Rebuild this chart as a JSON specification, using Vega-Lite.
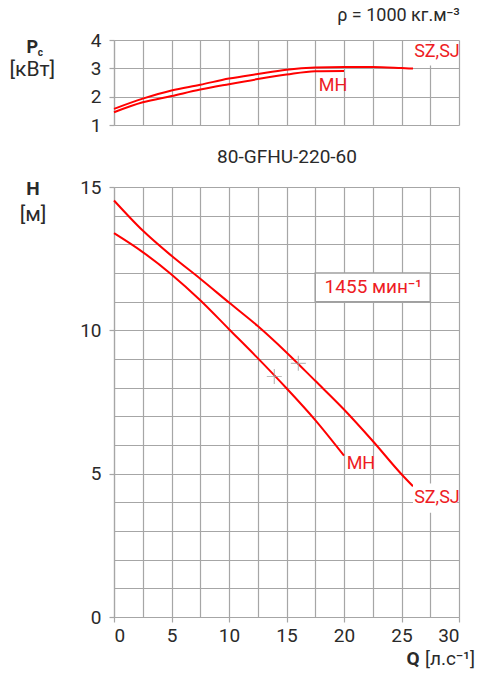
{
  "$schema": "https://vega.github.io/schema/vega-lite/v6.json",
  "padding": {"left": 9, "top": 7, "right": 0, "bottom": 5},
  "config": {
    "view": {"stroke": null},
    "font": "Roboto, sans-serif",
    "concat": {"spacing": 12},
    "axis": {
      "grid": true,
      "gridColor": "#a6a6a6",
      "gridWidth": 1.2,
      "gridOpacity": 1,
      "domainColor": "#a6a6a6",
      "domainWidth": 1.2,
      "tickColor": "#a6a6a6",
      "tickWidth": 1.2,
      "tickSize": 5,
      "labelColor": "#2a2a2a",
      "labelFontSize": 19,
      "labelPadding": 8,
      "labelOverlap": false
    }
  },
  "datasets": {
    "one": [{}],
    "head": [
      {"q": 0, "h": 14.53, "model": "SZ,SJ"},
      {"q": 2.5, "h": 13.48, "model": "SZ,SJ"},
      {"q": 5, "h": 12.6, "model": "SZ,SJ"},
      {"q": 7.5, "h": 11.8, "model": "SZ,SJ"},
      {"q": 10, "h": 10.97, "model": "SZ,SJ"},
      {"q": 12.5, "h": 10.15, "model": "SZ,SJ"},
      {"q": 15, "h": 9.23, "model": "SZ,SJ"},
      {"q": 17.5, "h": 8.24, "model": "SZ,SJ"},
      {"q": 20, "h": 7.24, "model": "SZ,SJ"},
      {"q": 22.5, "h": 6.14, "model": "SZ,SJ"},
      {"q": 25, "h": 4.98, "model": "SZ,SJ"},
      {"q": 26, "h": 4.56, "model": "SZ,SJ"},
      {"q": 0, "h": 13.39, "model": "MH"},
      {"q": 2.5, "h": 12.73, "model": "MH"},
      {"q": 5, "h": 11.95, "model": "MH"},
      {"q": 7.5, "h": 11.05, "model": "MH"},
      {"q": 10, "h": 10.04, "model": "MH"},
      {"q": 12.5, "h": 9.03, "model": "MH"},
      {"q": 15, "h": 7.98, "model": "MH"},
      {"q": 17.5, "h": 6.87, "model": "MH"},
      {"q": 20, "h": 5.63, "model": "MH"}
    ],
    "power": [
      {"q": 0, "p": 1.57, "model": "SZ,SJ"},
      {"q": 2.5, "p": 1.93, "model": "SZ,SJ"},
      {"q": 5, "p": 2.22, "model": "SZ,SJ"},
      {"q": 7.5, "p": 2.42, "model": "SZ,SJ"},
      {"q": 10, "p": 2.64, "model": "SZ,SJ"},
      {"q": 12.5, "p": 2.8, "model": "SZ,SJ"},
      {"q": 15, "p": 2.95, "model": "SZ,SJ"},
      {"q": 17.5, "p": 3.03, "model": "SZ,SJ"},
      {"q": 20, "p": 3.05, "model": "SZ,SJ"},
      {"q": 22.5, "p": 3.05, "model": "SZ,SJ"},
      {"q": 25, "p": 3.01, "model": "SZ,SJ"},
      {"q": 26, "p": 2.99, "model": "SZ,SJ"},
      {"q": 0, "p": 1.45, "model": "MH"},
      {"q": 2.5, "p": 1.8, "model": "MH"},
      {"q": 5, "p": 2.02, "model": "MH"},
      {"q": 7.5, "p": 2.25, "model": "MH"},
      {"q": 10, "p": 2.44, "model": "MH"},
      {"q": 12.5, "p": 2.62, "model": "MH"},
      {"q": 15, "p": 2.78, "model": "MH"},
      {"q": 17.5, "p": 2.9, "model": "MH"},
      {"q": 20, "p": 2.91, "model": "MH"}
    ],
    "duty": [
      {"q": 13.94, "h": 8.39},
      {"q": 16.03, "h": 8.85}
    ]
  },
  "vconcat": [
    {
      "width": 345,
      "height": 85,
      "title": {
        "text": "ρ = 1000  кг.м⁻³",
        "anchor": "end",
        "fontSize": 18,
        "fontWeight": "normal",
        "color": "#2a2a2a",
        "offset": 6
      },
      "layer": [
        {
          "data": {"name": "power"},
          "mark": {"type": "line", "color": "#ff0000", "strokeWidth": 2, "interpolate": "monotone"},
          "encoding": {
            "x": {
              "field": "q", "type": "quantitative",
              "scale": {"domain": [0, 30], "nice": false, "zero": false},
              "axis": {"values": [0, 2.5, 5, 7.5, 10, 12.5, 15, 17.5, 20, 22.5, 25, 27.5, 30], "grid": true, "labels": false, "ticks": false, "domain": false, "title": "80-GFHU-220-60", "titleFontSize": 19, "titleFontWeight": "normal", "titleColor": "#2a2a2a", "titlePadding": 22}
            },
            "y": {
              "field": "p", "type": "quantitative",
              "scale": {"domain": [1, 4], "nice": false, "zero": false},
              "axis": {"values": [1, 2, 3, 4], "grid": true, "title": null}
            },
            "detail": {"field": "model"}
          }
        },
        {
          "data": {"name": "one"},
          "mark": {"type": "rect", "fill": "white"},
          "encoding": {
            "x": {"datum": 26.0, "type": "quantitative", "axis": {"values": [0, 2.5, 5, 7.5, 10, 12.5, 15, 17.5, 20, 22.5, 25, 27.5, 30], "grid": true, "labels": false, "ticks": false, "domain": false, "title": "80-GFHU-220-60", "titleFontSize": 19, "titleFontWeight": "normal", "titleColor": "#2a2a2a", "titlePadding": 22}},
            "x2": {"datum": 29.8},
            "y": {"datum": 3.92, "type": "quantitative", "axis": {"values": [1, 2, 3, 4], "grid": true, "title": null}},
            "y2": {"datum": 3.1}
          }
        },
        {
          "data": {"name": "one"},
          "mark": {"type": "text", "text": "SZ,SJ", "align": "left", "baseline": "middle", "fontSize": 18, "color": "#ee1c24"},
          "encoding": {
            "x": {"datum": 26.1, "type": "quantitative", "axis": {"values": [0, 2.5, 5, 7.5, 10, 12.5, 15, 17.5, 20, 22.5, 25, 27.5, 30], "grid": true, "labels": false, "ticks": false, "domain": false, "title": "80-GFHU-220-60", "titleFontSize": 19, "titleFontWeight": "normal", "titleColor": "#2a2a2a", "titlePadding": 22}},
            "y": {"datum": 3.59, "type": "quantitative", "axis": {"values": [1, 2, 3, 4], "grid": true, "title": null}}
          }
        },
        {
          "data": {"name": "one"},
          "mark": {"type": "text", "text": "MH", "align": "left", "baseline": "middle", "fontSize": 18, "color": "#ee1c24"},
          "encoding": {
            "x": {"datum": 17.8, "type": "quantitative", "axis": {"values": [0, 2.5, 5, 7.5, 10, 12.5, 15, 17.5, 20, 22.5, 25, 27.5, 30], "grid": true, "labels": false, "ticks": false, "domain": false, "title": "80-GFHU-220-60", "titleFontSize": 19, "titleFontWeight": "normal", "titleColor": "#2a2a2a", "titlePadding": 22}},
            "y": {"datum": 2.38, "type": "quantitative", "axis": {"values": [1, 2, 3, 4], "grid": true, "title": null}}
          }
        },
        {
          "data": {"name": "one"},
          "mark": {"type": "text", "text": "P", "align": "center", "baseline": "middle", "fontSize": 18, "fontWeight": "bold", "color": "#2a2a2a"},
          "encoding": {
            "x": {"datum": -7.1, "type": "quantitative", "axis": {"values": [0, 2.5, 5, 7.5, 10, 12.5, 15, 17.5, 20, 22.5, 25, 27.5, 30], "grid": true, "labels": false, "ticks": false, "domain": false, "title": "80-GFHU-220-60", "titleFontSize": 19, "titleFontWeight": "normal", "titleColor": "#2a2a2a", "titlePadding": 22}},
            "y": {"datum": 3.72, "type": "quantitative", "axis": {"values": [1, 2, 3, 4], "grid": true, "title": null}}
          }
        },
        {
          "data": {"name": "one"},
          "mark": {"type": "text", "text": "c", "align": "center", "baseline": "middle", "fontSize": 10, "fontWeight": "bold", "color": "#2a2a2a"},
          "encoding": {
            "x": {"datum": -6.4, "type": "quantitative", "axis": {"values": [0, 2.5, 5, 7.5, 10, 12.5, 15, 17.5, 20, 22.5, 25, 27.5, 30], "grid": true, "labels": false, "ticks": false, "domain": false, "title": "80-GFHU-220-60", "titleFontSize": 19, "titleFontWeight": "normal", "titleColor": "#2a2a2a", "titlePadding": 22}},
            "y": {"datum": 3.54, "type": "quantitative", "axis": {"values": [1, 2, 3, 4], "grid": true, "title": null}}
          }
        },
        {
          "data": {"name": "one"},
          "mark": {"type": "text", "text": "[кВт]", "align": "center", "baseline": "middle", "fontSize": 21, "color": "#2a2a2a"},
          "encoding": {
            "x": {"datum": -7.1, "type": "quantitative", "axis": {"values": [0, 2.5, 5, 7.5, 10, 12.5, 15, 17.5, 20, 22.5, 25, 27.5, 30], "grid": true, "labels": false, "ticks": false, "domain": false, "title": "80-GFHU-220-60", "titleFontSize": 19, "titleFontWeight": "normal", "titleColor": "#2a2a2a", "titlePadding": 22}},
            "y": {"datum": 2.93, "type": "quantitative", "axis": {"values": [1, 2, 3, 4], "grid": true, "title": null}}
          }
        }
      ]
    },
    {
      "width": 345,
      "height": 430,
      "layer": [
        {
          "data": {"name": "head"},
          "mark": {"type": "line", "color": "#ff0000", "strokeWidth": 2, "interpolate": "monotone"},
          "encoding": {
            "x": {
              "field": "q", "type": "quantitative",
              "scale": {"domain": [0, 30], "nice": false, "zero": false},
              "axis": {"values": [0, 2.5, 5, 7.5, 10, 12.5, 15, 17.5, 20, 22.5, 25, 27.5, 30], "grid": true, "labelExpr": "datum.value % 5 === 0 ? datum.label : ''", "tickOpacity": {"expr": "datum.value % 5 === 0 ? 1 : 0"}, "title": null, "labelPadding": 4}
            },
            "y": {
              "field": "h", "type": "quantitative",
              "scale": {"domain": [0, 15], "nice": false, "zero": false},
              "axis": {"values": [0, 1, 2, 3, 4, 5, 6, 7, 8, 9, 10, 11, 12, 13, 14, 15], "grid": true, "labelExpr": "datum.value % 5 === 0 ? datum.label : ''", "tickOpacity": {"expr": "datum.value % 5 === 0 ? 1 : 0"}, "title": null}
            },
            "detail": {"field": "model"}
          }
        },
        {
          "data": {"name": "one"},
          "mark": {"type": "rect", "fill": "white", "stroke": "#a0a0a0", "strokeWidth": 1.5},
          "encoding": {
            "x": {"datum": 17.5, "type": "quantitative", "axis": {"values": [0, 2.5, 5, 7.5, 10, 12.5, 15, 17.5, 20, 22.5, 25, 27.5, 30], "grid": true, "labelExpr": "datum.value % 5 === 0 ? datum.label : ''", "tickOpacity": {"expr": "datum.value % 5 === 0 ? 1 : 0"}, "title": null, "labelPadding": 4}},
            "x2": {"datum": 27.5},
            "y": {"datum": 12, "type": "quantitative", "axis": {"values": [0, 1, 2, 3, 4, 5, 6, 7, 8, 9, 10, 11, 12, 13, 14, 15], "grid": true, "labelExpr": "datum.value % 5 === 0 ? datum.label : ''", "tickOpacity": {"expr": "datum.value % 5 === 0 ? 1 : 0"}, "title": null}},
            "y2": {"datum": 11}
          }
        },
        {
          "data": {"name": "one"},
          "mark": {"type": "rect", "fill": "white"},
          "encoding": {
            "x": {"datum": 26.0, "type": "quantitative", "axis": {"values": [0, 2.5, 5, 7.5, 10, 12.5, 15, 17.5, 20, 22.5, 25, 27.5, 30], "grid": true, "labelExpr": "datum.value % 5 === 0 ? datum.label : ''", "tickOpacity": {"expr": "datum.value % 5 === 0 ? 1 : 0"}, "title": null, "labelPadding": 4}},
            "x2": {"datum": 29.8},
            "y": {"datum": 4.66, "type": "quantitative", "axis": {"values": [0, 1, 2, 3, 4, 5, 6, 7, 8, 9, 10, 11, 12, 13, 14, 15], "grid": true, "labelExpr": "datum.value % 5 === 0 ? datum.label : ''", "tickOpacity": {"expr": "datum.value % 5 === 0 ? 1 : 0"}, "title": null}},
            "y2": {"datum": 3.64}
          }
        },
        {
          "data": {"name": "duty"},
          "mark": {"type": "point", "shape": "M-1,0L1,0M0,-1L0,1", "size": 225, "stroke": "#a0a0a0", "strokeWidth": 1.2, "filled": false},
          "encoding": {
            "x": {"field": "q", "type": "quantitative", "axis": {"values": [0, 2.5, 5, 7.5, 10, 12.5, 15, 17.5, 20, 22.5, 25, 27.5, 30], "grid": true, "labelExpr": "datum.value % 5 === 0 ? datum.label : ''", "tickOpacity": {"expr": "datum.value % 5 === 0 ? 1 : 0"}, "title": null, "labelPadding": 4}},
            "y": {"field": "h", "type": "quantitative", "axis": {"values": [0, 1, 2, 3, 4, 5, 6, 7, 8, 9, 10, 11, 12, 13, 14, 15], "grid": true, "labelExpr": "datum.value % 5 === 0 ? datum.label : ''", "tickOpacity": {"expr": "datum.value % 5 === 0 ? 1 : 0"}, "title": null}}
          }
        },
        {
          "data": {"name": "one"},
          "mark": {"type": "text", "text": "1455 мин⁻¹", "align": "center", "baseline": "middle", "fontSize": 19, "color": "#ee1c24"},
          "encoding": {
            "x": {"datum": 22.55, "type": "quantitative", "axis": {"values": [0, 2.5, 5, 7.5, 10, 12.5, 15, 17.5, 20, 22.5, 25, 27.5, 30], "grid": true, "labelExpr": "datum.value % 5 === 0 ? datum.label : ''", "tickOpacity": {"expr": "datum.value % 5 === 0 ? 1 : 0"}, "title": null, "labelPadding": 4}},
            "y": {"datum": 11.5, "type": "quantitative", "axis": {"values": [0, 1, 2, 3, 4, 5, 6, 7, 8, 9, 10, 11, 12, 13, 14, 15], "grid": true, "labelExpr": "datum.value % 5 === 0 ? datum.label : ''", "tickOpacity": {"expr": "datum.value % 5 === 0 ? 1 : 0"}, "title": null}}
          }
        },
        {
          "data": {"name": "one"},
          "mark": {"type": "text", "text": "MH", "align": "left", "baseline": "middle", "fontSize": 18, "color": "#ee1c24"},
          "encoding": {
            "x": {"datum": 20.23, "type": "quantitative", "axis": {"values": [0, 2.5, 5, 7.5, 10, 12.5, 15, 17.5, 20, 22.5, 25, 27.5, 30], "grid": true, "labelExpr": "datum.value % 5 === 0 ? datum.label : ''", "tickOpacity": {"expr": "datum.value % 5 === 0 ? 1 : 0"}, "title": null, "labelPadding": 4}},
            "y": {"datum": 5.34, "type": "quantitative", "axis": {"values": [0, 1, 2, 3, 4, 5, 6, 7, 8, 9, 10, 11, 12, 13, 14, 15], "grid": true, "labelExpr": "datum.value % 5 === 0 ? datum.label : ''", "tickOpacity": {"expr": "datum.value % 5 === 0 ? 1 : 0"}, "title": null}}
          }
        },
        {
          "data": {"name": "one"},
          "mark": {"type": "text", "text": "SZ,SJ", "align": "left", "baseline": "middle", "fontSize": 18, "color": "#ee1c24"},
          "encoding": {
            "x": {"datum": 26.1, "type": "quantitative", "axis": {"values": [0, 2.5, 5, 7.5, 10, 12.5, 15, 17.5, 20, 22.5, 25, 27.5, 30], "grid": true, "labelExpr": "datum.value % 5 === 0 ? datum.label : ''", "tickOpacity": {"expr": "datum.value % 5 === 0 ? 1 : 0"}, "title": null, "labelPadding": 4}},
            "y": {"datum": 4.14, "type": "quantitative", "axis": {"values": [0, 1, 2, 3, 4, 5, 6, 7, 8, 9, 10, 11, 12, 13, 14, 15], "grid": true, "labelExpr": "datum.value % 5 === 0 ? datum.label : ''", "tickOpacity": {"expr": "datum.value % 5 === 0 ? 1 : 0"}, "title": null}}
          }
        },
        {
          "data": {"name": "one"},
          "mark": {"type": "text", "text": "H", "align": "center", "baseline": "middle", "fontSize": 19, "fontWeight": "bold", "color": "#2a2a2a"},
          "encoding": {
            "x": {"datum": -7.04, "type": "quantitative", "axis": {"values": [0, 2.5, 5, 7.5, 10, 12.5, 15, 17.5, 20, 22.5, 25, 27.5, 30], "grid": true, "labelExpr": "datum.value % 5 === 0 ? datum.label : ''", "tickOpacity": {"expr": "datum.value % 5 === 0 ? 1 : 0"}, "title": null, "labelPadding": 4}},
            "y": {"datum": 14.94, "type": "quantitative", "axis": {"values": [0, 1, 2, 3, 4, 5, 6, 7, 8, 9, 10, 11, 12, 13, 14, 15], "grid": true, "labelExpr": "datum.value % 5 === 0 ? datum.label : ''", "tickOpacity": {"expr": "datum.value % 5 === 0 ? 1 : 0"}, "title": null}}
          }
        },
        {
          "data": {"name": "one"},
          "mark": {"type": "text", "text": "[м]", "align": "center", "baseline": "middle", "fontSize": 21, "color": "#2a2a2a"},
          "encoding": {
            "x": {"datum": -7.04, "type": "quantitative", "axis": {"values": [0, 2.5, 5, 7.5, 10, 12.5, 15, 17.5, 20, 22.5, 25, 27.5, 30], "grid": true, "labelExpr": "datum.value % 5 === 0 ? datum.label : ''", "tickOpacity": {"expr": "datum.value % 5 === 0 ? 1 : 0"}, "title": null, "labelPadding": 4}},
            "y": {"datum": 14.01, "type": "quantitative", "axis": {"values": [0, 1, 2, 3, 4, 5, 6, 7, 8, 9, 10, 11, 12, 13, 14, 15], "grid": true, "labelExpr": "datum.value % 5 === 0 ? datum.label : ''", "tickOpacity": {"expr": "datum.value % 5 === 0 ? 1 : 0"}, "title": null}}
          }
        },
        {
          "data": {"name": "one"},
          "mark": {"type": "text", "text": "Q", "align": "center", "baseline": "middle", "fontSize": 19, "fontWeight": "bold", "color": "#2a2a2a"},
          "encoding": {
            "x": {"datum": 26.0, "type": "quantitative", "axis": {"values": [0, 2.5, 5, 7.5, 10, 12.5, 15, 17.5, 20, 22.5, 25, 27.5, 30], "grid": true, "labelExpr": "datum.value % 5 === 0 ? datum.label : ''", "tickOpacity": {"expr": "datum.value % 5 === 0 ? 1 : 0"}, "title": null, "labelPadding": 4}},
            "y": {"datum": -1.46, "type": "quantitative", "axis": {"values": [0, 1, 2, 3, 4, 5, 6, 7, 8, 9, 10, 11, 12, 13, 14, 15], "grid": true, "labelExpr": "datum.value % 5 === 0 ? datum.label : ''", "tickOpacity": {"expr": "datum.value % 5 === 0 ? 1 : 0"}, "title": null}}
          }
        },
        {
          "data": {"name": "one"},
          "mark": {"type": "text", "text": "[л.с⁻¹]", "align": "left", "baseline": "middle", "fontSize": 19, "color": "#2a2a2a"},
          "encoding": {
            "x": {"datum": 27.04, "type": "quantitative", "axis": {"values": [0, 2.5, 5, 7.5, 10, 12.5, 15, 17.5, 20, 22.5, 25, 27.5, 30], "grid": true, "labelExpr": "datum.value % 5 === 0 ? datum.label : ''", "tickOpacity": {"expr": "datum.value % 5 === 0 ? 1 : 0"}, "title": null, "labelPadding": 4}},
            "y": {"datum": -1.46, "type": "quantitative", "axis": {"values": [0, 1, 2, 3, 4, 5, 6, 7, 8, 9, 10, 11, 12, 13, 14, 15], "grid": true, "labelExpr": "datum.value % 5 === 0 ? datum.label : ''", "tickOpacity": {"expr": "datum.value % 5 === 0 ? 1 : 0"}, "title": null}}
          }
        }
      ]
    }
  ]
}
